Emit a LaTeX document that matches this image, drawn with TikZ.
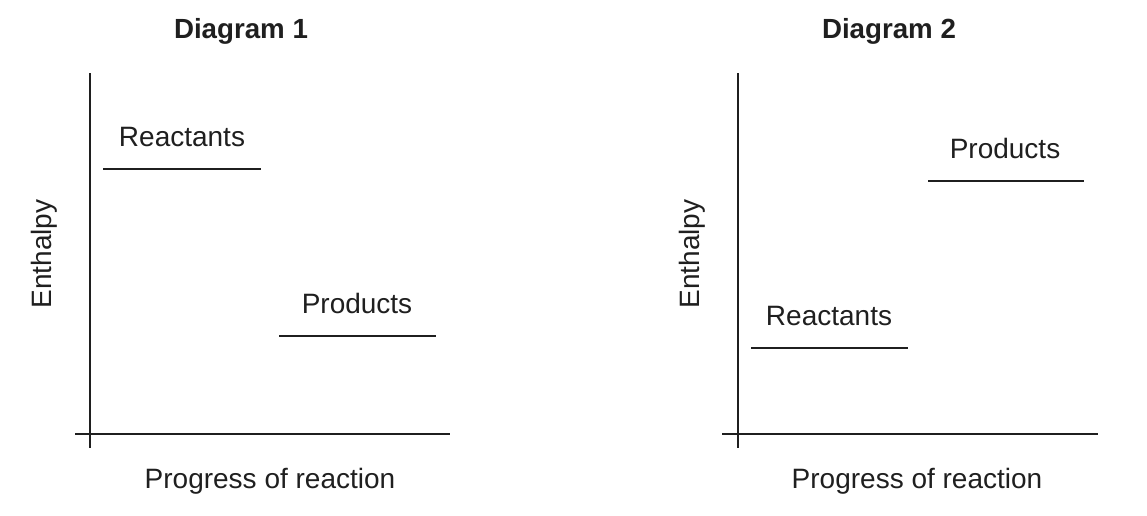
\documentclass[tikz,border=0pt]{standalone}
\usepackage{fontspec}
\setmainfont{Liberation Sans}
\begin{document}
\begin{tikzpicture}[x=1pt,y=-1pt,
  lbl/.style={inner sep=0pt,anchor=base,font=\fontsize{28}{30}\selectfont,text=black!88},
  ttl/.style={inner sep=0pt,anchor=base,font=\fontsize{27.7}{30}\selectfont\bfseries,text=black!88},
  axisline/.style={line width=1.3pt,black!88},
  level/.style={line width=1.6pt,black!88}]
\useasboundingbox (0,0) rectangle (1147,515);
% Diagram 1
\node[ttl] (t1) at (241,38) {Diagram 1};
\coordinate (y1top) at (90,73);
\coordinate (y1bot) at (90,448);
\coordinate (x1l) at (75,434);
\coordinate (x1r) at (450,434);
\draw[axisline] (y1top) -- (y1bot);
\draw[axisline] (x1l) -- (x1r);
\node[lbl,rotate=90] (e1) at (51,254) {Enthalpy};
\node[lbl] (p1) at (270,488) {Progress of reaction};
\coordinate (r1a) at (103,169);
\coordinate (r1b) at (261,169);
\draw[level] (r1a) -- (r1b);
\node[lbl] (r1) at (182,146) {Reactants};
\coordinate (q1a) at (279,336);
\coordinate (q1b) at (436,336);
\draw[level] (q1a) -- (q1b);
\node[lbl] (q1) at (357,313) {Products};
% Diagram 2
\node[ttl] (t2) at (889,38) {Diagram 2};
\coordinate (y2top) at (738,73);
\coordinate (y2bot) at (738,448);
\coordinate (x2l) at (722,434);
\coordinate (x2r) at (1098,434);
\draw[axisline] (y2top) -- (y2bot);
\draw[axisline] (x2l) -- (x2r);
\node[lbl,rotate=90] (e2) at (699,254) {Enthalpy};
\node[lbl] (p2) at (917,488) {Progress of reaction};
\coordinate (r2a) at (751,348);
\coordinate (r2b) at (908,348);
\draw[level] (r2a) -- (r2b);
\node[lbl] (r2) at (829,325) {Reactants};
\coordinate (q2a) at (928,181);
\coordinate (q2b) at (1084,181);
\draw[level] (q2a) -- (q2b);
\node[lbl] (q2) at (1005,158) {Products};
\end{tikzpicture}
\end{document}
